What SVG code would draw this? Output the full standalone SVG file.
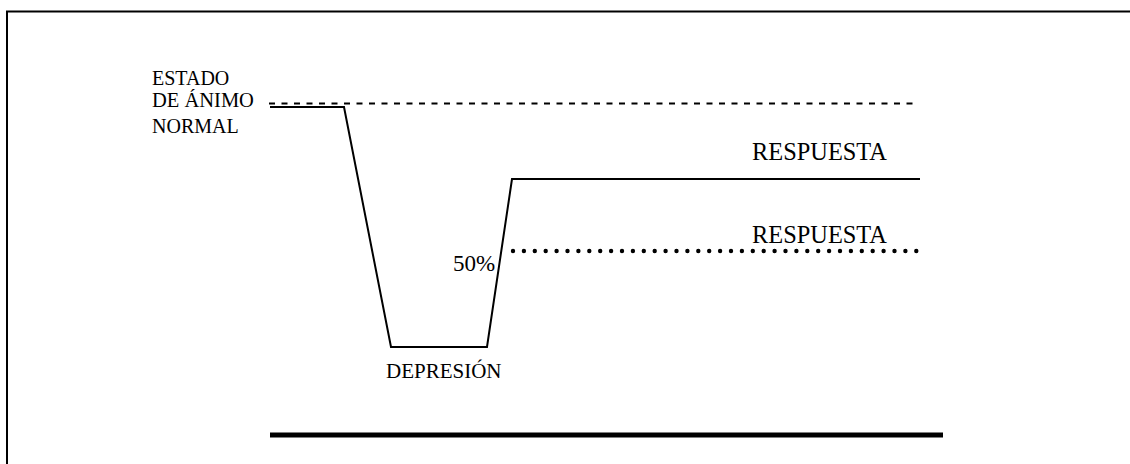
<svg xmlns="http://www.w3.org/2000/svg" width="1130" height="464" viewBox="0 0 1130 464">
  <style>
    text { font-family: "Liberation Serif", "DejaVu Serif", serif; fill: #000; }
    .frame { fill: none; stroke: #000; stroke-width: 2; }
    .curve { fill: none; stroke: #000; stroke-width: 2; stroke-linejoin: miter; }
    .dash { fill: none; stroke: #000; stroke-width: 2; stroke-dasharray: 6 6.5; }
    .dots { fill: none; stroke: #000; stroke-width: 4.4; stroke-linecap: round; stroke-dasharray: 0 10.9; }
    .axis { fill: none; stroke: #000; stroke-width: 5; }
  </style>
  <rect width="1130" height="464" fill="#fff"/>
  <!-- outer frame, open to the right and bottom -->
  <path class="frame" d="M7,470 V11.5 H1140"/>

  <g id="connectors">
    <!-- normal mood reference level -->
    <line class="dash" x1="269" y1="103.5" x2="918" y2="103.5"/>
    <!-- mood course: normal, fall into depression, recovery -->
    <path class="curve" d="M270,107 H344 L391,347 H487 L512,179 H920"/>
    <!-- partial response level -->
    <line class="dots" x1="513" y1="251" x2="920" y2="251"/>
    <!-- time axis -->
    <line class="axis" x1="270" y1="435" x2="943" y2="435"/>
  </g>

  <g id="estado-normal">
    <text x="152" y="85" font-size="20">ESTADO</text>
    <text x="152" y="107" font-size="20.5">DE ÁNIMO</text>
    <text x="152" y="133" font-size="20">NORMAL</text>
  </g>
  <g id="depresion">
    <text x="386" y="378" font-size="21">DEPRESIÓN</text>
  </g>
  <g id="cincuenta">
    <text x="453" y="271" font-size="23">50%</text>
  </g>
  <g id="respuesta-completa">
    <text x="752" y="160" font-size="24.4">RESPUESTA</text>
  </g>
  <g id="respuesta-parcial">
    <text x="752" y="243" font-size="24.4">RESPUESTA</text>
  </g>
</svg>
